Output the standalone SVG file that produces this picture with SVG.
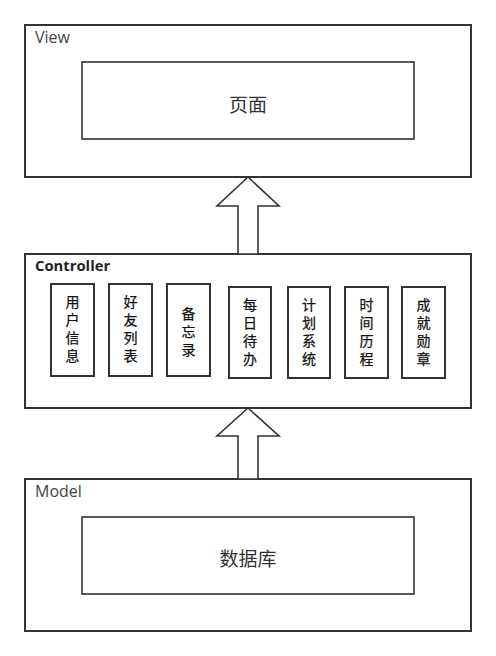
<svg xmlns="http://www.w3.org/2000/svg" width="496" height="656" viewBox="0 0 496 656">
<style>
.outer{fill:#fff;stroke:#333;stroke-width:2}
.inner{fill:#fff;stroke:#333;stroke-width:1.6}
.mod{fill:#fff;stroke:#333;stroke-width:2}
.lbl{font-family:"Open Sans","Noto Sans",sans-serif;font-size:16px;fill:#444}
.blbl{font-family:"Open Sans","Noto Sans",sans-serif;font-size:14.8px;font-weight:bold;fill:#222}
.big{font-family:"Noto Sans CJK SC","Noto Sans",sans-serif;font-size:19px;fill:#333;text-anchor:middle}
.sm{font-family:"Noto Sans CJK SC","Noto Sans",sans-serif;font-size:14px;fill:#111;text-anchor:middle;writing-mode:vertical-rl;letter-spacing:4px;stroke:#111;stroke-width:0.25}
.arr{fill:#fff;stroke:#333;stroke-width:1.6;stroke-linejoin:miter}
</style>
<rect width="496" height="656" fill="#fff"/>
<g id="view">
<rect class="outer" x="25" y="25" width="446" height="152"/>
<text class="lbl" x="35" y="43">View</text>
</g>
<g id="page">
<rect class="inner" x="82" y="62" width="332" height="77"/>
<text class="big" x="248" y="112">页面</text>
</g>
<g id="controller">
<rect class="outer" x="25" y="254" width="446" height="154"/>
<text class="blbl" x="35" y="271">Controller</text>
</g>
<g id="m1">
<rect class="mod" x="51" y="284" width="43" height="92"/>
<text class="sm" x="72.5" y="330.5">用户信息</text>
</g>
<g id="m2">
<rect class="mod" x="109" y="284" width="43" height="92"/>
<text class="sm" x="130.5" y="330.5">好友列表</text>
</g>
<g id="m3">
<rect class="mod" x="167" y="284" width="43" height="92"/>
<text class="sm" x="188.5" y="334">备忘录</text>
</g>
<g id="m4">
<rect class="mod" x="229" y="287" width="42" height="91"/>
<text class="sm" x="250" y="333.5">每日待办</text>
</g>
<g id="m5">
<rect class="mod" x="288" y="287" width="42" height="91"/>
<text class="sm" x="309" y="333.5">计划系统</text>
</g>
<g id="m6">
<rect class="mod" x="345" y="287" width="43" height="91"/>
<text class="sm" x="366.5" y="333.5">时间历程</text>
</g>
<g id="m7">
<rect class="mod" x="402" y="287" width="43" height="91"/>
<text class="sm" x="423.5" y="333.5">成就勋章</text>
</g>
<g id="model">
<rect class="outer" x="25" y="479" width="446" height="152"/>
<text class="lbl" x="35" y="497">Model</text>
</g>
<g id="db">
<rect class="inner" x="82" y="517" width="332" height="77"/>
<text class="big" x="248" y="566">数据库</text>
</g>
<g id="connectors">
<path class="arr" d="M248,177 L279,206 L258,206 L258,254 L238,254 L238,206 L217,206 Z"/>
<path class="arr" d="M248,408 L279,436 L258,436 L258,479 L238,479 L238,436 L217,436 Z"/>
</g>
</svg>
